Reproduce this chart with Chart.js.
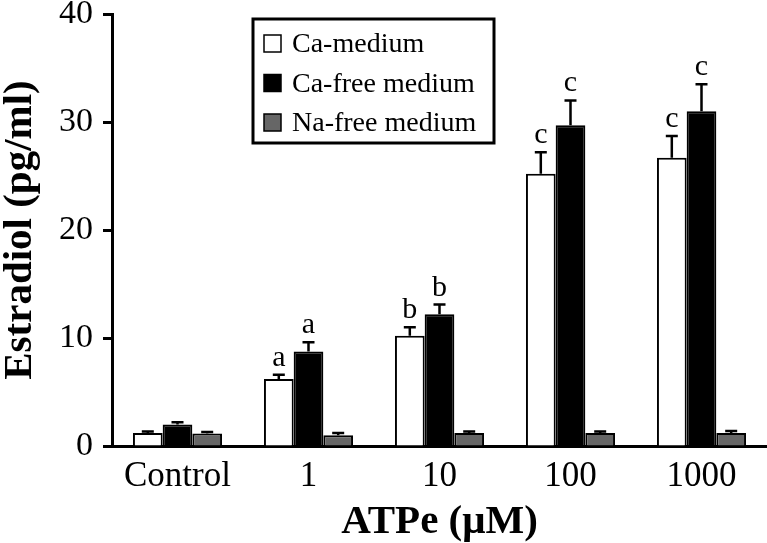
<!DOCTYPE html>
<html>
<head>
<meta charset="utf-8">
<script src="https://cdn.jsdelivr.net/npm/chart.js@4"></script>
<style>
  html, body { margin: 0; padding: 0; background: #fff; }
  #wrap { width: 767px; height: 543px; }
</style>
</head>
<body>
<div id="wrap"><canvas id="chart" width="767" height="543"></canvas></div>
<script>
const categories = ["Control", "1", "10", "100", "1000"];

const caMedium = [1.2, 6.2, 10.2, 25.2, 26.7];
const caMediumErr = [0.15, 0.4, 0.8, 2.0, 2.0];
const caMediumLetters = ["", "a", "b", "c", "c"];

const caFree = [2.0, 8.75, 12.2, 29.7, 31.0];
const caFreeErr = [0.2, 0.85, 0.9, 2.3, 2.5];
const caFreeLetters = ["", "a", "b", "c", "c"];

const naFree = [1.15, 1.0, 1.2, 1.2, 1.2];
const naFreeErr = [0.15, 0.2, 0.15, 0.15, 0.2];
const naFreeLetters = ["", "", "", "", ""];

const yTicks = [0, 10, 20, 30, 40];

const serif = "'Liberation Serif', 'Times New Roman', serif";

// error bars + significance letters
const errorBars = {
    id: "errorBars",
    afterDatasetsDraw(chart) {
        const ctx = chart.ctx;
        const yScale = chart.scales.y;
        ctx.save();
        ctx.strokeStyle = "#000";
        ctx.lineWidth = 2.5;
        ctx.fillStyle = "#000";
        ctx.font = "30px " + serif;
        ctx.textAlign = "center";
        ctx.textBaseline = "alphabetic";
        chart.data.datasets.forEach((ds, i) => {
            const meta = chart.getDatasetMeta(i);
            meta.data.forEach((bar, j) => {
                const top = yScale.getPixelForValue(ds.data[j]);
                const cap = yScale.getPixelForValue(ds.data[j] + ds.errors[j]);
                ctx.beginPath();
                ctx.moveTo(bar.x, top);
                ctx.lineTo(bar.x, cap);
                ctx.moveTo(bar.x - 6, cap);
                ctx.lineTo(bar.x + 6, cap);
                ctx.stroke();
                if (ds.letters[j]) ctx.fillText(ds.letters[j], bar.x, cap - 9);
            });
        });
        ctx.restore();
    }
};

// legend box inside the plot
const boxLegend = {
    id: "boxLegend",
    afterDraw(chart) {
        const ctx = chart.ctx;
        ctx.save();
        ctx.lineWidth = 3;
        ctx.strokeStyle = "#000";
        ctx.strokeRect(253, 19, 241, 124);
        ctx.font = "28px " + serif;
        ctx.textBaseline = "middle";
        chart.data.datasets.forEach((ds, i) => {
            const cy = 44 + i * 39.5;
            ctx.fillStyle = ds.backgroundColor;
            ctx.fillRect(264, cy - 9, 17, 17);
            ctx.lineWidth = 1.5;
            ctx.strokeRect(264, cy - 9, 17, 17);
            ctx.fillStyle = "#000";
            ctx.fillText(ds.label, 292, cy + 1);
        });
        ctx.restore();
    }
};

new Chart(document.getElementById("chart"), {
    type: "bar",
    data: {
        labels: categories,
        datasets: [
            { label: "Ca-medium", data: caMedium, errors: caMediumErr, letters: caMediumLetters,
              backgroundColor: "#ffffff", borderColor: "#000", borderWidth: 2 },
            { label: "Ca-free medium", data: caFree, errors: caFreeErr, letters: caFreeLetters,
              backgroundColor: "#000000", borderColor: "#000", borderWidth: 2 },
            { label: "Na-free medium", data: naFree, errors: naFreeErr, letters: naFreeLetters,
              backgroundColor: "#666666", borderColor: "#000", borderWidth: 2 }
        ]
    },
    options: {
        responsive: false,
        animation: false,
        categoryPercentage: 0.68,
        barPercentage: 1.0,
        layout: { padding: 0 },
        plugins: {
            legend: { display: false },
            tooltip: { enabled: false }
        },
        scales: {
            x: {
                afterFit: (s) => { s.height = 97; s.paddingLeft = 0; s.paddingRight = 0; },
                grid: { display: true, drawOnChartArea: false, drawTicks: false },
                border: { display: true, color: "#000", width: 3 },
                ticks: { color: "#000", padding: 10, font: { family: serif, size: 35 } },
                title: {
                    display: true, text: "ATPe (\u03bcM)", color: "#000",
                    font: { family: serif, size: 41, weight: "bold", lineHeight: 1 },
                    padding: { top: 0, bottom: 0 }
                }
            },
            y: {
                min: 0, max: 40,
                afterFit: (s) => { s.width = 112; s.paddingTop = 14; s.paddingBottom = 0; },
                afterBuildTicks: (s) => { s.ticks = yTicks.map(v => ({ value: v })); },
                grid: { display: true, drawOnChartArea: false, drawTicks: true, tickLength: 9, tickWidth: 3, color: "#000" },
                border: { display: true, color: "#000", width: 3 },
                ticks: { color: "#000", padding: 10, font: { family: serif, size: 34 } },
                title: {
                    display: true, text: "Estradiol (pg/ml)", color: "#000",
                    font: { family: serif, size: 41, weight: "bold", lineHeight: 1 },
                    padding: { top: 0, bottom: 0 }
                }
            }
        }
    },
    plugins: [errorBars, boxLegend]
});
</script>
</body>
</html>
